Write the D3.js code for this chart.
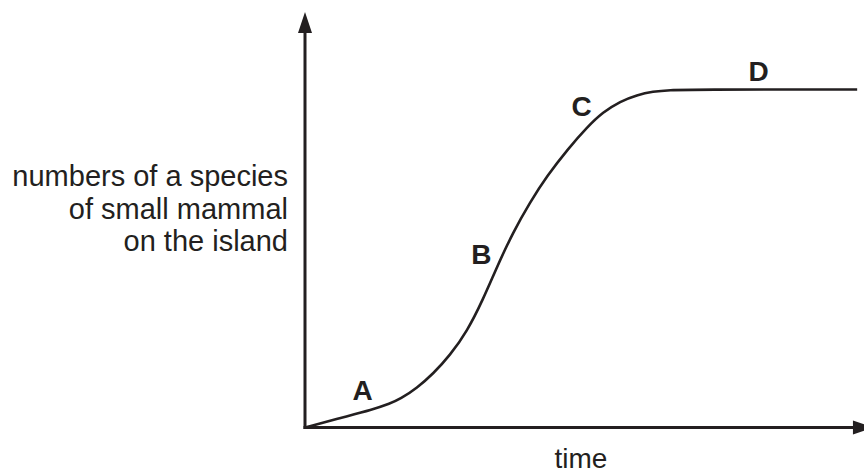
<!DOCTYPE html>
<html>
<head>
<meta charset="utf-8">
<script src="https://cdn.jsdelivr.net/npm/d3@7"></script>
<style>
  html, body { margin: 0; padding: 0; background: #fff; }
  svg { display: block; }
</style>
</head>
<body>
<svg id="chart" width="864" height="473"></svg>
<script>
// ---- data ----
const timeValues = [0, 6.25, 12.1, 15.2, 17.0, 20.0, 22.9, 25.9, 28.9, 31.8, 34.3, 37.1, 40.2, 43.2, 47.0, 50.4, 53.2, 56.3, 59.3, 62.1, 65.2, 68.8, 98.6];
const populationValues = [0, 2.8, 5.3, 7.1, 8.4, 11.7, 15.9, 21.4, 28.3, 37.9, 47.6, 57.6, 66.7, 74.4, 82.5, 88.9, 93.3, 96.5, 98.4, 99.4, 99.85, 100, 100];
const stageLabels = ["A", "B", "C", "D"];
const stageTimes = [10.3, 31.5, 49.4, 81.0];
const stageValues = [8.2, 48.5, 92.3, 102.5];
const yLabelLines = ["numbers of a species", "of small mammal", "on the island"];
const xLabel = "time";
const xAxisMax = 101.6;
const yAxisMax = 122.9;

// ---- scales ----
const ink = "#231f20";
const svg = d3.select("#chart");
const x = d3.scaleLinear().domain([0, 100]).range([305, 865]);
const y = d3.scaleLinear().domain([0, 100]).range([427.5, 89.5]);

const arrowLen = 21, arrowHalf = 7;

// y axis
svg.append("line")
  .attr("x1", x(0)).attr("x2", x(0))
  .attr("y1", y(0) + 1.5).attr("y2", y(yAxisMax) + arrowLen - 1)
  .attr("stroke", ink).attr("stroke-width", 3);
svg.append("path")
  .attr("d", `M${x(0)},${y(yAxisMax)} L${x(0) - arrowHalf},${y(yAxisMax) + arrowLen} L${x(0) + arrowHalf},${y(yAxisMax) + arrowLen} Z`)
  .attr("fill", ink);

// x axis
svg.append("line")
  .attr("x1", x(0) - 1.5).attr("x2", x(xAxisMax) - arrowLen + 1)
  .attr("y1", y(0)).attr("y2", y(0))
  .attr("stroke", ink).attr("stroke-width", 3);
svg.append("path")
  .attr("d", `M${x(xAxisMax)},${y(0)} L${x(xAxisMax) - arrowLen},${y(0) - arrowHalf} L${x(xAxisMax) - arrowLen},${y(0) + arrowHalf} Z`)
  .attr("fill", ink);

// curve
const pts = timeValues.map((t, i) => [t, populationValues[i]]);
svg.append("path")
  .datum(pts)
  .attr("d", d3.line().x(d => x(d[0])).y(d => y(d[1])).curve(d3.curveBasis))
  .attr("fill", "none").attr("stroke", ink).attr("stroke-width", 2.6)
  .attr("stroke-linecap", "butt");

// stage labels
svg.selectAll("text.stage")
  .data(stageLabels)
  .enter().append("text")
  .attr("class", "stage")
  .attr("x", (d, i) => x(stageTimes[i]))
  .attr("y", (d, i) => y(stageValues[i]))
  .attr("text-anchor", "middle")
  .attr("font-family", "'Liberation Sans', Arial, sans-serif")
  .attr("font-weight", "bold")
  .attr("font-size", 28)
  .attr("fill", ink)
  .text(d => d);

// y label
svg.append("text")
  .attr("text-anchor", "end")
  .attr("font-family", "'Liberation Sans', Arial, sans-serif")
  .attr("font-size", 29)
  .attr("fill", ink)
  .selectAll("tspan")
  .data(yLabelLines)
  .enter().append("tspan")
  .attr("x", 288)
  .attr("y", (d, i) => 186 + i * 32.5)
  .text(d => d);

// x label
svg.append("text")
  .attr("x", 581)
  .attr("y", 468)
  .attr("text-anchor", "middle")
  .attr("font-family", "'Liberation Sans', Arial, sans-serif")
  .attr("font-size", 28)
  .attr("fill", ink)
  .text(xLabel);
</script>
</body>
</html>
